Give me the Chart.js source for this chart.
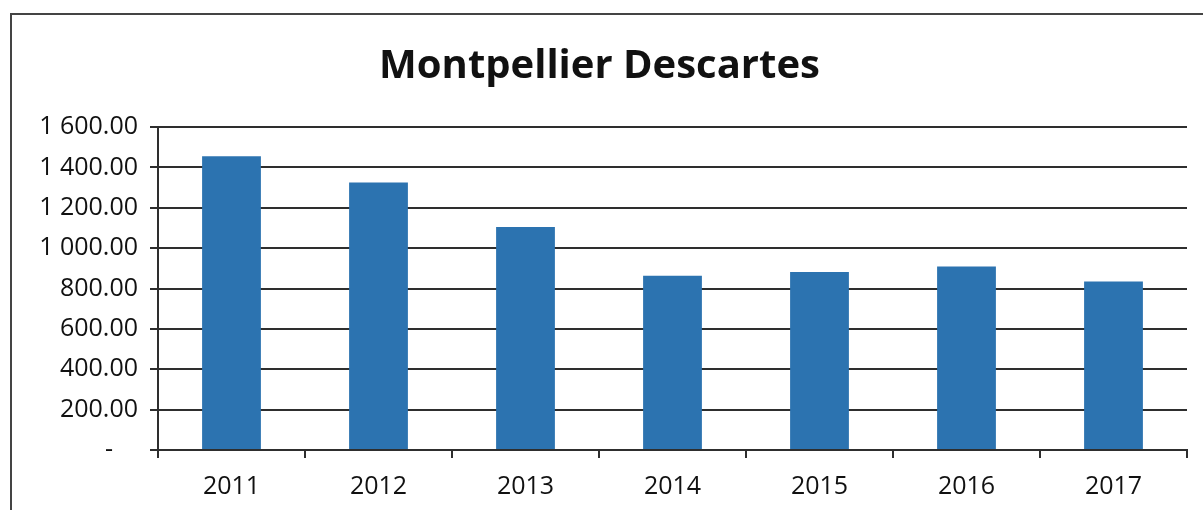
<!DOCTYPE html>
<html>
<head>
<meta charset="utf-8">
<script src="https://cdn.jsdelivr.net/npm/chart.js@4"></script>
<style>
  html, body { margin: 0; padding: 0; background: #fff; overflow: hidden; }
  #wrap {
    position: absolute; left: 10px; top: 13px;
    width: 1240px; height: 520px;
    border-left: 2px solid #444; border-top: 2px solid #444;
  }
</style>
</head>
<body>
<div id="wrap"><canvas id="myChart" width="1204" height="495"></canvas></div>
<script>
// values
const years = ['2011', '2012', '2013', '2014', '2015', '2016', '2017'];
const amounts = [1455, 1325, 1105, 863, 882, 909, 835];
const yTickLabels = ['-\u2002\u2002', '200.00', '400.00', '600.00', '800.00', '1 000.00', '1 200.00', '1 400.00', '1 600.00'];

const lineColor = '#2e2e2e';
const tickFont = { family: 'Open Sans', size: 25 };

const ctx = document.getElementById('myChart').getContext('2d');
var myChart = new Chart(ctx, {
  type: 'bar',
  data: {
    labels: years,
    datasets: [
      {
        label: 'Montpellier Descartes',
        data: amounts,
        backgroundColor: '#2c73b0',
        borderWidth: 0,
        barPercentage: 0.4,
        categoryPercentage: 1.0,
      },
    ],
  },
  options: {
    responsive: false,
    animation: false,
    layout: { padding: { left: 0, right: 29, top: 0, bottom: 0 } },
    plugins: {
      legend: { display: false },
      tooltip: { enabled: false },
      title: {
        display: true,
        text: 'Montpellier Descartes',
        color: '#111',
        font: { family: 'Open Sans', size: 40, weight: 'bold', lineHeight: 1.2 },
        padding: { top: 28, bottom: 36 },
      },
    },
    scales: {
      x: {
        grid: {
          offset: true,
          drawOnChartArea: false,
          drawTicks: true,
          tickLength: 8,
          color: lineColor,
          lineWidth: 2,
        },
        border: { display: true, color: lineColor, width: 2 },
        ticks: { color: '#111', font: tickFont, padding: 14, maxRotation: 0 },
        afterFit: (scale) => { scale.height = 60; },
      },
      y: {
        min: 0,
        max: 1600,
        grid: {
          color: lineColor,
          lineWidth: 2,
          drawTicks: true,
          tickLength: 8,
        },
        border: { display: true, color: lineColor, width: 2 },
        ticks: {
          stepSize: 200,
          color: '#111',
          font: tickFont,
          padding: 12,
          callback: (value, index) => yTickLabels[index],
        },
        afterFit: (scale) => { scale.width = 146; },
      },
    },
  },
});
</script>
</body>
</html>
